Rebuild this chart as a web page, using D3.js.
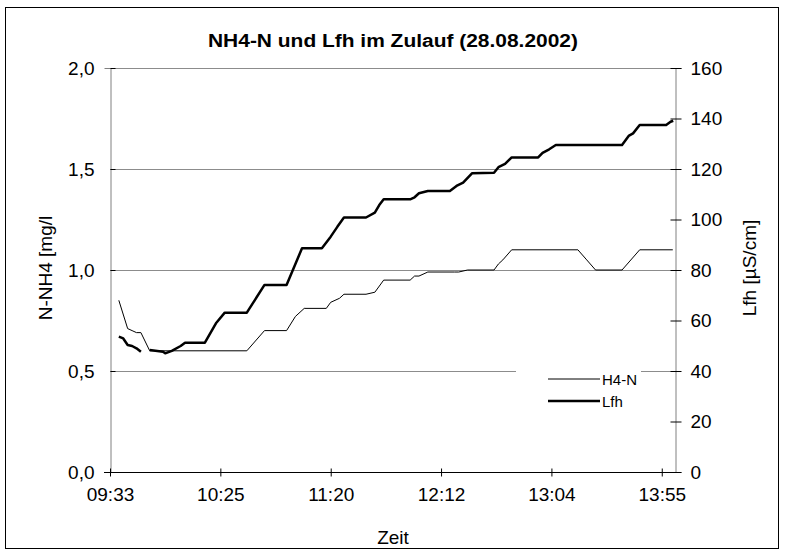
<!DOCTYPE html>
<html>
<head>
<meta charset="utf-8">
<script src="https://cdn.jsdelivr.net/npm/d3@7"></script>
<style>
  body { margin: 0; background: #fff; }
  svg text { font-family: "Liberation Sans", Arial, sans-serif; fill: #000; }
</style>
</head>
<body>
<svg id="chart" width="785" height="555"></svg>
<script>
// x = sample number on the category axis (label every 25 samples)
var tickIdx = [0, 25, 50, 75, 100, 125];
var tickLabels = ["09:33", "10:25", "11:20", "12:12", "13:04", "13:55"];

// NH4-N [mg/l], left axis
var nh4Idx = [2, 4, 5, 6, 7, 9, 31, 35, 40, 42, 44, 49, 50, 52, 53, 58, 60, 62, 68, 69, 70, 72, 78, 79, 81, 87, 88, 89, 91, 106, 108, 110, 116, 120, 127.5];
var nh4Val = [0.85, 0.71, 0.70, 0.69, 0.69, 0.60, 0.60, 0.70, 0.70, 0.77, 0.81, 0.81, 0.84, 0.86, 0.88, 0.88, 0.89, 0.95, 0.95, 0.97, 0.97, 0.99, 0.99, 0.99, 1.00, 1.00, 1.03, 1.05, 1.10, 1.10, 1.05, 1.00, 1.00, 1.10, 1.10];

// Lfh [µS/cm], right axis (null = missing value)
var lfhIdx = [2, 3, 4, 5, 6, 7, 8, 9, 12, 12.5, 14, 16, 17, 21.5, 24, 26, 31, 35, 40, 43.5, 48, 50, 51.5, 53, 58, 60, 61, 62, 68, 69, 70, 72, 77, 78.5, 80, 82, 87, 88, 89.5, 91, 97, 98, 99.5, 101, 116, 117.5, 118.5, 120, 126, 127, 127.6];
var lfhVal = [53.6, 52.9, 50.3, 49.9, 49.0, 47.6, null, 48.3, 47.6, 47.0, 48.0, 49.9, 51.2, 51.2, 58.9, 63.1, 63.1, 74.1, 74.1, 88.6, 88.6, 93.2, 97.1, 100.8, 100.8, 102.7, 105.7, 108.0, 108.0, 108.8, 110.4, 111.3, 111.3, 113.3, 114.6, 118.3, 118.5, 120.7, 122.0, 124.6, 124.6, 126.4, 127.8, 129.5, 129.5, 133.1, 134.1, 137.4, 137.4, 138.7, 139.1];

var leftTicks = [0, 0.5, 1, 1.5, 2];
var rightTicks = [0, 20, 40, 60, 80, 100, 120, 140, 160];

var svg = d3.select("#chart");

// outer frame
svg.append("rect")
  .attr("x", 5.5).attr("y", 7.5)
  .attr("width", 773).attr("height", 541)
  .attr("fill", "#fff").attr("stroke", "#000").attr("stroke-width", 1);

var x = d3.scaleLinear().domain([0, 128]).range([110, 675]);
var yL = d3.scaleLinear().domain([0, 2]).range([472, 68]);
var yR = d3.scaleLinear().domain([0, 160]).range([472, 68]);

var fmt = function(d) { return d3.format(".1f")(d).replace(".", ","); };

// gridlines
svg.append("g").selectAll("line")
  .data(leftTicks.filter(function(d) { return d > 0; }))
  .enter().append("line")
  .attr("x1", x(0)).attr("x2", x(128))
  .attr("y1", function(d) { return Math.round(yL(d)) + 0.5; })
  .attr("y2", function(d) { return Math.round(yL(d)) + 0.5; })
  .attr("stroke", "#8c8c8c").attr("stroke-width", 1);

// left axis
var gL = svg.append("g").attr("transform", "translate(" + (x(0) + 0.5) + ",0)")
  .call(d3.axisLeft(yL).tickValues(leftTicks).tickFormat(fmt).tickSize(6).tickPadding(10));
gL.selectAll(".tick line").attr("x2", 5);

// right axis
var gR = svg.append("g").attr("transform", "translate(" + (x(128) + 0.5) + ",0)")
  .call(d3.axisRight(yR).tickValues(rightTicks).tickSize(6).tickPadding(9));
gR.selectAll(".tick line").attr("x1", -5);

[gL, gR].forEach(function(g) {
  g.select(".domain").attr("stroke", "#808080");
  g.selectAll(".tick line").attr("stroke", "#000");
  g.selectAll("text").style("font-size", "19px");
});

// bottom axis
var gB = svg.append("g").attr("transform", "translate(0," + (yL(0) + 0.5) + ")")
  .call(d3.axisBottom(x).tickValues(tickIdx).tickFormat(function(d, i) { return tickLabels[i]; })
    .tickSizeOuter(0).tickSize(4).tickPadding(11));
gB.select(".domain").attr("d", "M" + (x(0) - 6) + ",0H" + (x(128) + 5));
gB.selectAll(".tick line").attr("y1", -4);
gB.selectAll("text").style("font-size", "19px");

// series
var line = function(ys) {
  return d3.line()
    .defined(function(d) { return d[1] != null; })
    .x(function(d) { return x(d[0]); })
    .y(function(d) { return ys(d[1]); });
};

svg.append("path")
  .datum(nh4Idx.map(function(d, i) { return [d, nh4Val[i]]; }))
  .attr("d", line(yL))
  .attr("fill", "none").attr("stroke", "#000").attr("stroke-width", 1);

svg.append("path")
  .datum(lfhIdx.map(function(d, i) { return [d, lfhVal[i]]; }))
  .attr("d", line(yR))
  .attr("fill", "none").attr("stroke", "#000").attr("stroke-width", 2.5)
  .attr("stroke-linejoin", "round");

// legend
var leg = svg.append("g");
leg.append("rect").attr("x", 516).attr("y", 364).attr("width", 125).attr("height", 46).attr("fill", "#fff");
var legItems = [["H4-N", 1, 379], ["Lfh", 2.5, 401]];
legItems.forEach(function(it) {
  leg.append("line").attr("x1", 548).attr("x2", 600).attr("y1", it[2]).attr("y2", it[2])
    .attr("stroke", "#000").attr("stroke-width", it[1]);
  leg.append("text").attr("x", 602).attr("y", it[2] + 5.5).style("font-size", "15px").text(it[0]);
});

// titles
svg.append("text").attr("x", 393).attr("y", 47).attr("text-anchor", "middle")
  .style("font-size", "18px").style("font-weight", "bold")
  .attr("textLength", 370).attr("lengthAdjust", "spacingAndGlyphs")
  .text("NH4-N und Lfh im Zulauf (28.08.2002)");

svg.append("text").attr("x", 393).attr("y", 544).attr("text-anchor", "middle")
  .style("font-size", "19px").text("Zeit");

svg.append("text").attr("transform", "translate(52,268) rotate(-90)").attr("text-anchor", "middle")
  .style("font-size", "19px").text("N-NH4 [mg/l");

svg.append("text").attr("transform", "translate(756,268) rotate(-90)").attr("text-anchor", "middle")
  .style("font-size", "19px").text("Lfh [µS/cm]");
</script>
</body>
</html>
